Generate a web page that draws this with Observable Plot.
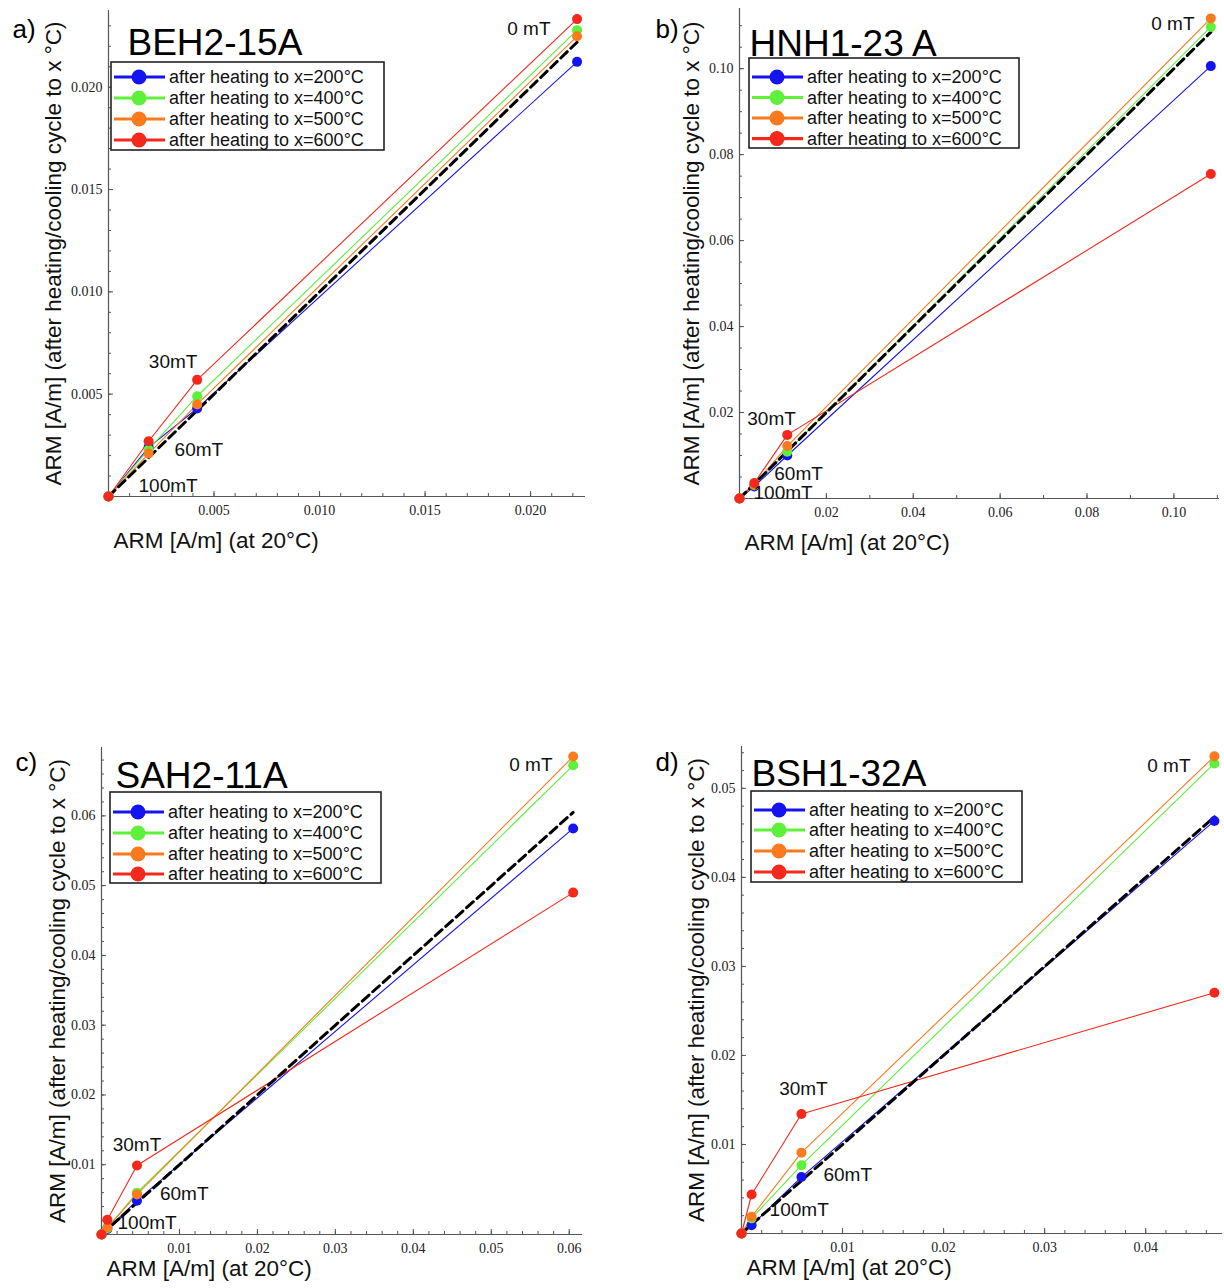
<!DOCTYPE html>
<html><head><meta charset="utf-8">
<script src="https://cdn.jsdelivr.net/npm/d3@7"></script>
<script src="https://cdn.jsdelivr.net/npm/@observablehq/plot@0.6"></script>
<style>
body{margin:0;background:#fff;}
#root{position:relative;width:1224px;height:1288px;overflow:hidden;background:#fff;}
.panel{position:absolute;}
</style></head><body><div id="root"></div>
<script>
// ---- shared categories ----
const seriesNames = ["after heating to x=200°C", "after heating to x=400°C", "after heating to x=500°C", "after heating to x=600°C"];
const seriesColors = ["#1414f0", "#5ef03a", "#fb7a1e", "#f5281c"];
const xAxisTitle = "ARM [A/m] (at 20°C)";
const yAxisTitle = "ARM [A/m] (after heating/cooling cycle to x °C)";

// ---- panel a) BEH2-15A ----
const aX   = [0, 0.0019, 0.0042, 0.0222];
const a200 = [0, 0.0024, 0.0043, 0.02124];
const a400 = [0, 0.0023, 0.0049, 0.02279];
const a500 = [0, 0.0021, 0.0045, 0.02249];
const a600 = [0, 0.0027, 0.0057, 0.02333];
const aTicks = [0.005, 0.010, 0.015, 0.020];

// ---- panel b) HNH1-23 A ----
const bX   = [0, 0.0034, 0.0110, 0.1085];
const b200 = [0, 0.0028, 0.0100, 0.1006];
const b400 = [0, 0.0031, 0.0109, 0.1097];
const b500 = [0, 0.0032, 0.0122, 0.1117];
const b600 = [0, 0.0036, 0.0148, 0.0755];
const bTicks = [0.02, 0.04, 0.06, 0.08, 0.10];

// ---- panel c) SAH2-11A ----
const cX   = [0, 0.00075, 0.00455, 0.0605];
const c200 = [0, 0.0008, 0.00485, 0.0582];
const c400 = [0, 0.0009, 0.0060, 0.06725];
const c500 = [0, 0.0010, 0.00575, 0.0685];
const c600 = [0, 0.0021, 0.0099, 0.0490];
const cXTicks = [0.01, 0.02, 0.03, 0.04, 0.05, 0.06];
const cYTicks = [0.01, 0.02, 0.03, 0.04, 0.05, 0.06];

// ---- panel d) BSH1-32A ----
const dX   = [0, 0.0010, 0.00593, 0.0468];
const d200 = [0, 0.00094, 0.00634, 0.04634];
const d400 = [0, 0.0017, 0.00767, 0.0528];
const d500 = [0, 0.00188, 0.00908, 0.0536];
const d600 = [0, 0.00438, 0.01342, 0.02705];
const dXTicks = [0.01, 0.02, 0.03, 0.04];
const dYTicks = [0.01, 0.02, 0.03, 0.04, 0.05];

const sans = "Liberation Sans, Arial, Helvetica, sans-serif";
const serif = "Liberation Serif, Times New Roman, serif";
const axisColor = "#555";

const panels = [
  {letter: "a)", title: "BEH2-15A", xs: aX, series: [a200, a400, a500, a600],
   xTicks: aTicks, yTicks: aTicks, fmt: ".3f", xMinorStep: 0.001, yMinorStep: 0.001,
   left: 0, top: 0, w: 612, h: 560, ml: 108, mr: 27, mt: 10, mb: 64, xMax: 0.0226, yMax: 0.02375,
   letterPos: [-96, 27], titlePos: [19, 44], zeroPos: [-35, 18], xLabDy: 44, yLabDx: -55,
   legend: {x: 111, y: 62, w: 273, h: 88, rows: [77, 98, 119, 140]},
   labels: [
     {t: "30mT", i: 2, s: 3, anchor: "middle", dx: -24, dy: -18},
     {t: "60mT", i: 1, s: 2, anchor: "start", dx: 26, dy: -4},
     {t: "100mT", i: 0, s: 0, anchor: "start", dx: 30, dy: -11}]},
  {letter: "b)", title: "HNH1-23 A", xs: bX, series: [b200, b400, b500, b600],
   xTicks: bTicks, yTicks: bTicks, fmt: ".2f", xMinorStep: 0.01, yMinorStep: 0.005,
   left: 612, top: 0, w: 612, h: 560, ml: 127, mr: 5, mt: 8, mb: 62, xMax: 0.1105, yMax: 0.114,
   letterPos: [-84, 29], titlePos: [10, 47], zeroPos: [-25, 15], xLabDy: 44, yLabDx: -48,
   legend: {x: 137, y: 58, w: 270, h: 90, rows: [77, 97.5, 118, 138.6]},
   labels: [
     {t: "30mT", i: 2, s: 3, anchor: "start", dx: -40, dy: -16},
     {t: "60mT", i: 1, s: 3, anchor: "start", dx: 20, dy: -9},
     {t: "100mT", i: 0, s: 0, anchor: "start", dx: 14, dy: -6}]},
  {letter: "c)", title: "SAH2-11A", xs: cX, series: [c200, c400, c500, c600],
   xTicks: cXTicks, yTicks: cYTicks, fmt: ".2f", xMinorStep: 0.002, yMinorStep: 0.002,
   left: 0, top: 728, w: 612, h: 560, ml: 101, mr: 30, mt: 19, mb: 54, xMax: 0.0617, yMax: 0.0698,
   letterPos: [-86, 23], titlePos: [14, 40], zeroPos: [-30, 17], xLabDy: 34, yLabDx: -44,
   legend: {x: 110, y: 64, w: 271, h: 91, rows: [84, 105, 126, 146]},
   labels: [
     {t: "30mT", i: 2, s: 3, anchor: "middle", dx: 0, dy: -21},
     {t: "60mT", i: 2, s: 2, anchor: "start", dx: 23, dy: 0},
     {t: "100mT", i: 0, s: 0, anchor: "start", dx: 16, dy: -12}]},
  {letter: "d)", title: "BSH1-32A", xs: dX, series: [d200, d400, d500, d600],
   xTicks: dXTicks, yTicks: dYTicks, fmt: ".2f", xMinorStep: 0.002, yMinorStep: 0.002,
   left: 612, top: 728, w: 612, h: 560, ml: 129, mr: 2, mt: 18, mb: 55, xMax: 0.0476, yMax: 0.0547,
   letterPos: [-86, 24], titlePos: [10, 39], zeroPos: [-32, 19], xLabDy: 34, yLabDx: -45,
   legend: {x: 139, y: 63, w: 271, h: 91, rows: [82, 102, 123, 144]},
   labels: [
     {t: "30mT", i: 2, s: 3, anchor: "middle", dx: 2, dy: -25},
     {t: "60mT", i: 2, s: 0, anchor: "start", dx: 22, dy: -2},
     {t: "100mT", i: 1, s: 0, anchor: "start", dx: 18, dy: -15}]}
];

function makePanel(p) {
  const rows = [];
  p.series.forEach((ys, si) => ys.forEach((y, i) => rows.push({x: p.xs[i], y, s: seriesNames[si]})));
  const xMinor = d3.range(p.xMinorStep, p.xMax, p.xMinorStep);
  const yMinor = d3.range(p.yMinorStep, p.yMax, p.yMinorStep);
  const fmt = d3.format(p.fmt);
  const labelMarks = p.labels.map(l => Plot.text([l], {
    x: () => p.xs[l.i], y: () => p.series[l.s][l.i], text: d => d.t,
    textAnchor: l.anchor, lineAnchor: "middle", dx: l.dx, dy: l.dy,
    fontSize: 19, fontFamily: sans, fill: "#111"
  }));
  const svg = Plot.plot({
    width: p.w, height: p.h,
    marginLeft: p.ml, marginRight: p.mr, marginTop: p.mt, marginBottom: p.mb,
    x: {domain: [0, p.xMax]},
    y: {domain: [0, p.yMax]},
    color: {domain: seriesNames, range: seriesColors},
    style: {fontFamily: serif, background: "white", overflow: "visible"},
    marks: [
      Plot.ruleY([0], {stroke: axisColor, strokeWidth: 1.2}),
      Plot.ruleX([0], {stroke: axisColor, strokeWidth: 1.2}),
      Plot.axisX({ticks: xMinor, tickSize: -3, fill: "none", stroke: axisColor, label: null}),
      Plot.axisY({ticks: yMinor, tickSize: -3, fill: "none", stroke: axisColor, label: null}),
      Plot.axisX({ticks: p.xTicks, tickSize: -5, tickPadding: 14, tickFormat: fmt, fontSize: 14,
                  stroke: axisColor, fill: "#222", label: null}),
      Plot.axisY({ticks: p.yTicks, tickSize: -5, tickPadding: 11, tickFormat: fmt, fontSize: 14,
                  stroke: axisColor, fill: "#222", label: null}),
      Plot.line(rows, {x: "x", y: "y", z: "s", stroke: "s", strokeWidth: 1.1}),
      Plot.line(p.xs, {x: d => d, y: d => d, stroke: "black", strokeWidth: 3, strokeDasharray: "9,5"}),
      Plot.dot(rows, {x: "x", y: "y", fill: "s", r: 5}),
      ...labelMarks,
      Plot.text(["0 mT"], {text: d => d, frameAnchor: "top-right", textAnchor: "end", lineAnchor: "middle",
        dx: p.zeroPos[0], dy: p.zeroPos[1], fontSize: 19, fontFamily: sans, fill: "#111"}),
      Plot.text([p.title], {text: d => d, frameAnchor: "top-left", textAnchor: "start", lineAnchor: "bottom",
        dx: p.titlePos[0], dy: p.titlePos[1], fontSize: 37, fontFamily: sans, fill: "#000"}),
      Plot.text([p.letter], {text: d => d, frameAnchor: "top-left", textAnchor: "start", lineAnchor: "bottom",
        dx: p.letterPos[0], dy: p.letterPos[1], fontSize: 26, fontFamily: sans, fill: "#000"}),
      Plot.text([xAxisTitle], {text: d => d, frameAnchor: "bottom-left", textAnchor: "start", lineAnchor: "middle",
        dx: 5, dy: p.xLabDy, fontSize: 22.5, fontFamily: sans, fill: "#111"}),
      Plot.text([yAxisTitle], {text: d => d, frameAnchor: "left", textAnchor: "middle", lineAnchor: "middle",
        rotate: -90, dx: p.yLabDx, fontSize: 22.5, fontFamily: sans, fill: "#111"})
    ]
  });
  // legend (inside the plot frame, top-left)
  const L = p.legend;
  const g = d3.select(svg).append("g").attr("class", "legend").attr("text-anchor", "start");
  g.append("rect").attr("x", L.x).attr("y", L.y).attr("width", L.w).attr("height", L.h)
    .attr("fill", "white").attr("stroke", "#222").attr("stroke-width", 1.6);
  seriesNames.forEach((name, i) => {
    const y = L.rows[i];
    g.append("line").attr("x1", L.x + 3).attr("x2", L.x + 54).attr("y1", y).attr("y2", y)
      .attr("stroke", seriesColors[i]).attr("stroke-width", 3.2);
    g.append("circle").attr("cx", L.x + 28).attr("cy", y).attr("r", 7.5).attr("fill", seriesColors[i]);
    g.append("text").attr("x", L.x + 58).attr("y", y).attr("dy", "0.35em")
      .attr("text-anchor", "start")
      .attr("font-family", sans).attr("font-size", 18).attr("fill", "#111").text(name);
  });
  const div = document.createElement("div");
  div.className = "panel";
  div.style.left = p.left + "px";
  div.style.top = p.top + "px";
  div.appendChild(svg);
  return div;
}

const root = document.getElementById("root");
panels.forEach(p => root.appendChild(makePanel(p)));
</script>
</body></html>
